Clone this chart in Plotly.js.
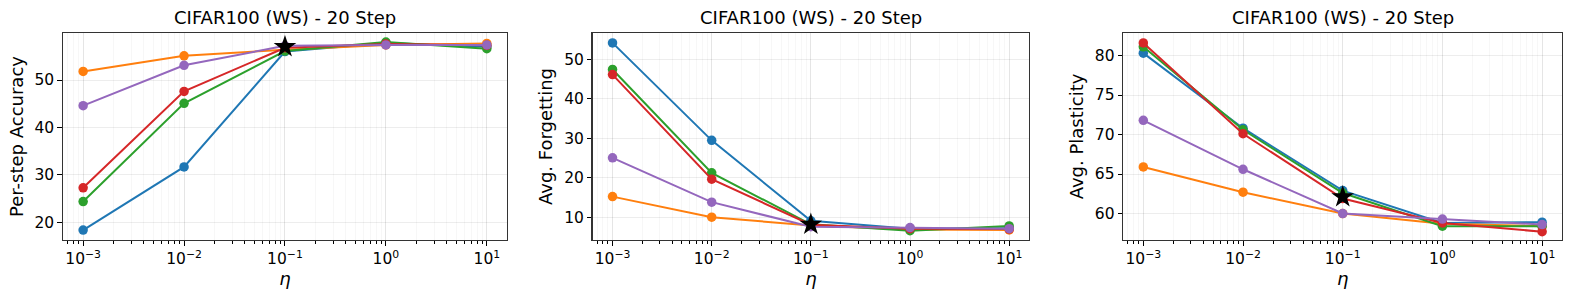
<!DOCTYPE html>
<html>
<head>
<meta charset="utf-8">
<script src="https://cdn.plot.ly/plotly-3.0.1.min.js"></script>
<style>html,body{margin:0;padding:0;background:#fff;}#chart{width:1578px;height:302px;}</style>
</head>
<body>
<div id="chart"></div>
<script>
const eta = [0.001, 0.01, 0.1, 1, 10];
const tickVals = [0.001, 0.01, 0.1, 1, 10];
const tickText = ['10<sup>−3</sup>', '10<sup>−2</sup>', '10<sup>−1</sup>', '10<sup>0</sup>', '10<sup>1</sup>'];
const seriesNames = ['A', 'B', 'C', 'D', 'E'];
const seriesColors = ['#1f77b4', '#ff7f0e', '#2ca02c', '#d62728', '#9467bd'];
const panelTitles = ['CIFAR100 (WS) - 20 Step', 'CIFAR100 (WS) - 20 Step', 'CIFAR100 (WS) - 20 Step'];
const yLabels = ['Per-step Accuracy', 'Avg. Forgetting', 'Avg. Plasticity'];

// Per-step Accuracy
const accA = [18.4, 31.7, 56.0, 57.8, 57.0];
const accB = [51.8, 55.1, 56.4, 57.4, 57.7];
const accC = [24.4, 45.1, 56.1, 58.0, 56.6];
const accD = [27.3, 47.6, 56.8, 57.6, 57.3];
const accE = [44.6, 53.1, 57.2, 57.4, 57.4];
const accStar = [0.1, 57.0];

// Avg. Forgetting
const fgtA = [54.1, 29.5, 9.2, 7.2, 7.3];
const fgtB = [15.3, 10.1, 8.0, 7.0, 6.9];
const fgtC = [47.4, 21.3, 8.3, 6.7, 7.9];
const fgtD = [46.1, 19.7, 8.2, 7.2, 7.1];
const fgtE = [25.1, 13.9, 7.7, 7.5, 7.2];
const fgtStar = [0.1, 8.3];

// Avg. Plasticity
const plaA = [80.3, 70.8, 62.9, 58.8, 58.9];
const plaB = [65.9, 62.7, 60.0, 58.7, 58.4];
const plaC = [81.1, 70.6, 62.6, 58.4, 58.4];
const plaD = [81.6, 70.1, 61.9, 58.8, 57.7];
const plaE = [71.8, 65.6, 60.0, 59.3, 58.6];
const plaStar = [0.1, 62.1];

const panels = [
  {series: [accA, accB, accC, accD, accE], star: accStar, yr: [16.3, 59.9], dtick: 10, dom: [0.0399, 0.3213]},
  {series: [fgtA, fgtB, fgtC, fgtD, fgtE], star: fgtStar, yr: [4.35, 56.6], dtick: 10, dom: [0.3756, 0.6521]},
  {series: [plaA, plaB, plaC, plaD, plaE], star: plaStar, yr: [56.65, 82.85], dtick: 5, dom: [0.7119, 0.9899]}
];

const font = 'DejaVu Sans, sans-serif';
const traces = [];
const layout = {
  width: 1578, height: 302,
  margin: {l: 0, r: 0, t: 0, b: 0},
  paper_bgcolor: '#fff', plot_bgcolor: '#fff',
  showlegend: false,
  font: {family: font, color: '#000'},
  annotations: []
};
const yDom = [0.2053, 0.8907];
panels.forEach((p, i) => {
  const n = i === 0 ? '' : String(i + 1);
  p.series.forEach((s, k) => {
    traces.push({
      x: eta, y: s, type: 'scatter', mode: 'lines+markers', name: seriesNames[k],
      xaxis: 'x' + n, yaxis: 'y' + n,
      line: {color: seriesColors[k], width: 2},
      marker: {color: seriesColors[k], size: 9.5}
    });
  });
  traces.push({
    x: [p.star[0]], y: [p.star[1]], type: 'scatter', mode: 'markers', name: 'best',
    xaxis: 'x' + n, yaxis: 'y' + n,
    marker: {symbol: 'star', color: '#000', size: 17, line: {width: 0}}
  });
  layout['xaxis' + n] = {
    type: 'log', domain: p.dom, anchor: 'y' + n,
    range: [-3.2, 1.2],
    tickvals: tickVals, ticktext: tickText,
    ticks: 'outside', ticklen: 4.5, tickwidth: 1, tickcolor: '#000',
    showline: true, linecolor: '#333', linewidth: 1.2, mirror: true,
    showgrid: true, gridcolor: 'rgba(0,0,0,0.09)', gridwidth: 0.8,
    zeroline: false,
    minor: {ticks: 'outside', ticklen: 2.5, tickcolor: '#000', showgrid: true, gridcolor: 'rgba(0,0,0,0.05)', gridwidth: 0.6, dtick: 'D1'},
    tickfont: {size: 15.5, family: font},
    title: {text: '<i>η</i>', font: {size: 18, family: font}, standoff: 4}
  };
  layout['yaxis' + n] = {
    domain: yDom, anchor: 'x' + n,
    range: p.yr, dtick: p.dtick,
    ticks: 'outside', ticklen: 4.5, tickwidth: 1, tickcolor: '#000',
    showline: true, linecolor: '#333', linewidth: 1.2, mirror: true,
    showgrid: true, gridcolor: 'rgba(0,0,0,0.09)', gridwidth: 0.8,
    zeroline: false,
    tickfont: {size: 15.5, family: font},
    title: {text: yLabels[i], font: {size: 18, family: font}, standoff: 6}
  };
  layout.annotations.push({
    text: panelTitles[i], xref: 'paper', yref: 'paper',
    x: (p.dom[0] + p.dom[1]) / 2, y: 1 - 18 / 302,
    xanchor: 'center', yanchor: 'middle', showarrow: false,
    font: {size: 18, family: font}
  });
});
Plotly.newPlot('chart', traces, layout, {displayModeBar: false, staticPlot: true});
</script>
</body>
</html>
